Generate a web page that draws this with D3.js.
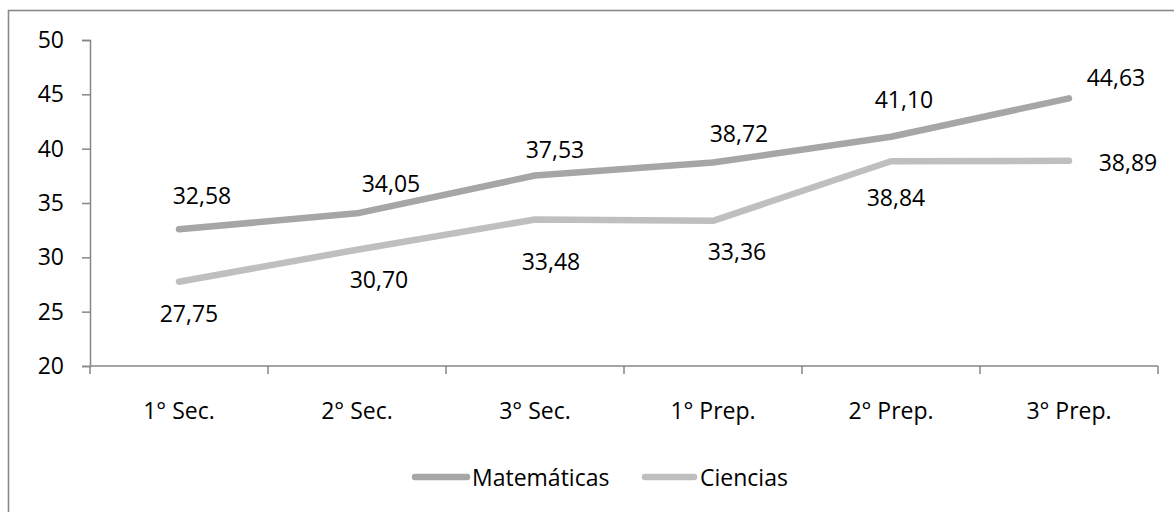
<!DOCTYPE html>
<html>
<head>
<meta charset="utf-8">
<script src="https://cdn.jsdelivr.net/npm/d3@7"></script>
<style>
  html, body { margin: 0; padding: 0; background: #fff; }
  svg { display: block; }
  text { font-family: "Open Sans", "Noto Sans", sans-serif; fill: #000; }
</style>
</head>
<body>
<svg id="chart" width="1174" height="512"></svg>
<script>
// Grade levels along the x axis
const categories = ["1° Sec.", "2° Sec.", "3° Sec.", "1° Prep.", "2° Prep.", "3° Prep."];

// Average scores per grade
const matematicas = [32.58, 34.05, 37.53, 38.72, 41.10, 44.63];
const ciencias = [27.75, 30.70, 33.48, 33.36, 38.84, 38.89];

const seriesNames = ["Matemáticas", "Ciencias"];
const yTicks = [20, 25, 30, 35, 40, 45, 50];

// Label placement (offset of each value label from its point, px)
const labelOffsets = [
  [[23, -34], [34, -30], [20, -27], [26, -30], [13, -38], [47, -21]],
  [[10, 31], [22, 29], [16, 41], [24, 30], [5, 36], [59, 1]]
];
const colors = ["#a6a6a6", "#bfbfbf"];
const FONT = 23;

const svg = d3.select("#chart");
const fmt = v => v.toFixed(2).replace(".", ",");

// Chart frame
svg.append("rect")
  .attr("x", 8.5).attr("y", 10.5)
  .attr("width", 1172).attr("height", 510)
  .attr("fill", "none").attr("stroke", "#8a8a8a").attr("stroke-width", 1.6);

const x = d3.scaleBand().domain(categories).range([90, 1158]);
const y = d3.scaleLinear().domain([20, 50]).range([366, 40]);
const cx = c => x(c) + x.bandwidth() / 2;

// Y axis
const yAxis = svg.append("g")
  .attr("transform", "translate(90,0)")
  .call(d3.axisLeft(y).tickValues(yTicks).tickSize(8).tickPadding(18).tickFormat(d3.format("d")));
yAxis.select(".domain").attr("stroke", "#868686").attr("stroke-width", 1.5);
yAxis.selectAll(".tick line").attr("stroke", "#868686").attr("stroke-width", 1.5);
yAxis.selectAll(".tick text")
  .style("font-family", "'Open Sans', sans-serif")
  .attr("font-size", FONT).attr("fill", "#000");

// X axis: baseline with tick marks at category boundaries
const xg = svg.append("g");
xg.append("line")
  .attr("x1", x.range()[0]).attr("x2", x.range()[1])
  .attr("y1", y(20)).attr("y2", y(20))
  .attr("stroke", "#868686").attr("stroke-width", 1.5);
const bounds = categories.map(c => x(c)).concat([x.range()[1]]);
xg.selectAll("line.tick").data(bounds).enter().append("line")
  .attr("class", "tick")
  .attr("x1", d => d).attr("x2", d => d)
  .attr("y1", y(20)).attr("y2", y(20) + 8)
  .attr("stroke", "#868686").attr("stroke-width", 1.5);
xg.selectAll("text").data(categories).enter().append("text")
  .attr("x", d => cx(d)).attr("y", 410)
  .attr("text-anchor", "middle").attr("dominant-baseline", "central")
  .attr("font-size", FONT)
  .text(d => d);

// Series lines
const data = [matematicas, ciencias];
const line = d3.line().x((d, i) => cx(categories[i])).y(d => y(d));

data.forEach((vals, s) => {
  svg.append("path")
    .datum(vals)
    .attr("d", line)
    .attr("fill", "none")
    .attr("stroke", colors[s])
    .attr("stroke-width", 6.5)
    .attr("stroke-linecap", "round")
    .attr("stroke-linejoin", "round");
});

// Value labels
data.forEach((vals, s) => {
  svg.append("g").selectAll("text").data(vals).enter().append("text")
    .attr("x", (d, i) => cx(categories[i]) + labelOffsets[s][i][0])
    .attr("y", (d, i) => y(d) + labelOffsets[s][i][1])
    .attr("text-anchor", "middle").attr("dominant-baseline", "central")
    .attr("font-size", FONT)
    .text(d => fmt(d));
});

// Legend
const legendItems = [
  { name: seriesNames[0], x1: 412, x2: 470, tx: 472 },
  { name: seriesNames[1], x1: 642, x2: 697, tx: 700 }
];
legendItems.forEach((it, s) => {
  svg.append("line")
    .attr("x1", it.x1 + 3).attr("x2", it.x2 - 3)
    .attr("y1", 477).attr("y2", 477)
    .attr("stroke", colors[s]).attr("stroke-width", 6.5)
    .attr("stroke-linecap", "round");
  svg.append("text")
    .attr("x", it.tx).attr("y", 477)
    .attr("dominant-baseline", "central")
    .attr("font-size", FONT)
    .text(it.name);
});
</script>
</body>
</html>
